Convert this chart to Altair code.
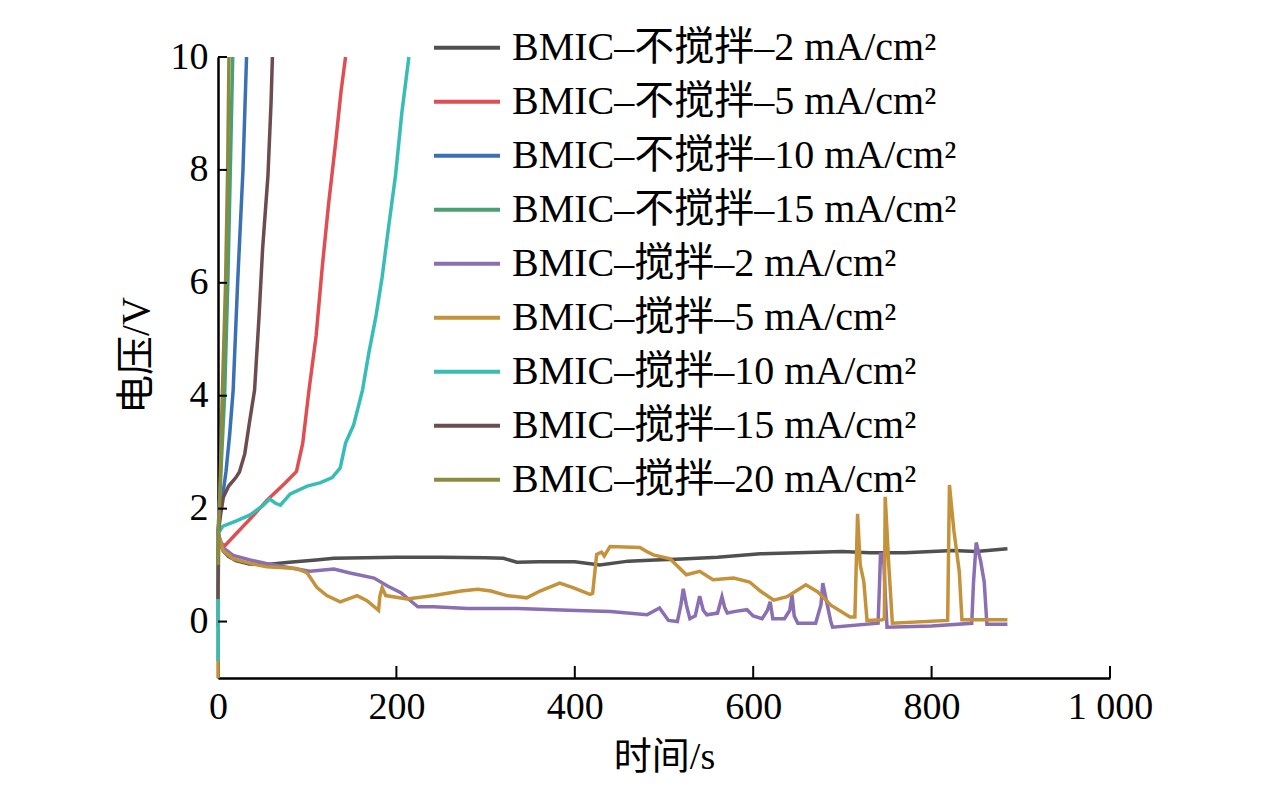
import altair as alt
import pandas as pd

names = [
    "BMIC–不搅拌–2 mA/cm²",
    "BMIC–不搅拌–5 mA/cm²",
    "BMIC–不搅拌–10 mA/cm²",
    "BMIC–不搅拌–15 mA/cm²",
    "BMIC–搅拌–2 mA/cm²",
    "BMIC–搅拌–5 mA/cm²",
    "BMIC–搅拌–10 mA/cm²",
    "BMIC–搅拌–15 mA/cm²",
    "BMIC–搅拌–20 mA/cm²",
]
colors = ["#505050", "#e04e52", "#3a70b4", "#4aa070", "#8a6fb3",
          "#c4923a", "#38bdb6", "#6c4c4e", "#8b8b40"]

# 不搅拌 series
t_ns2 = [0, 2, 6, 12, 20, 35, 55, 80, 110, 130, 200, 250, 300, 320, 335, 360, 400, 428,
         460, 490, 520, 560, 608, 650, 700, 730, 770, 800, 824, 850, 885]
v_ns2 = [1.6, 1.4, 1.25, 1.15, 1.08, 1.02, 1.01, 1.05, 1.09, 1.12, 1.14, 1.14, 1.13, 1.12,
         1.05, 1.06, 1.06, 1.0, 1.07, 1.09, 1.11, 1.14, 1.2, 1.22, 1.24, 1.22, 1.22, 1.24,
         1.26, 1.24, 1.29]

t_ns5 = [0, 3, 8, 20, 35, 55, 75, 88, 95, 102, 110, 117, 124, 132, 138, 143]
v_ns5 = [1.55, 1.38, 1.35, 1.55, 1.8, 2.15, 2.45, 2.66, 3.16, 4.1, 5.06, 6.3, 7.4, 8.5, 9.4, 10]

t_ns10 = [0, 2, 5, 9, 13, 17, 22, 28, 32]
v_ns10 = [1.6, 1.9, 2.2, 2.66, 3.3, 4.1, 6.0, 8.0, 10]

t_ns15 = [0, 2, 4, 7.4, 11, 13.8, 16.5]
v_ns15 = [1.6, 2.2, 2.9, 4.0, 6.0, 8.0, 10]

# 搅拌 series
t_s2 = [0, 0.5, 5.6, 17, 36, 54, 85, 103, 130, 148, 175, 190, 205, 224, 242, 280, 336, 393,
        440, 481, 495, 505, 515, 519, 521.6, 525, 529, 535, 540, 544, 548, 560, 565, 568,
        571, 580, 593, 600, 610, 616, 619, 622, 635, 641, 643.5, 646, 650, 670, 676, 678,
        683, 687, 689, 740, 741.5, 742.7, 746, 748, 750, 800, 845, 847, 850, 855, 859, 861,
        862, 885]
v_s2 = [-0.1, 1.54, 1.31, 1.17, 1.09, 1.03, 0.94, 0.89, 0.93, 0.86, 0.77, 0.63, 0.51, 0.26,
        0.26, 0.23, 0.23, 0.2, 0.18, 0.12, 0.24, 0.02, 0.0, 0.3, 0.58, 0.3, 0.05, 0.1, 0.45,
        0.2, 0.12, 0.15, 0.44, 0.25, 0.15, 0.18, 0.21, 0.1, 0.05, 0.2, 0.35, 0.05, 0.05, 0.2,
        0.47, 0.1, -0.03, -0.03, 0.3, 0.68, 0.3, 0.0, -0.1, -0.03, 0.6, 1.19, 1.19, 0.5, -0.1,
        -0.08, -0.03, 0.7, 1.4, 1.07, 0.7, 0.2, -0.05, -0.05]

t_s5 = [0, 0.5, 5.6, 17, 36, 54.5, 88, 100, 111, 122, 137, 156, 167, 180, 181.5, 184, 188,
        212, 242, 272.6, 291, 306, 324, 336, 346, 361, 383, 398, 417, 420, 424.5, 430, 433,
        439.5, 473, 480.6, 488, 507, 525, 540, 555, 578, 596, 608, 623, 638, 659, 672, 687,
        708.5, 714, 717, 720, 724, 727.6, 745, 747, 748, 752, 756, 818, 820, 825, 831, 834, 885]
v_s5 = [-1.0, 1.54, 1.26, 1.11, 1.03, 0.97, 0.94, 0.86, 0.6, 0.46, 0.35, 0.46, 0.37, 0.2,
        0.45, 0.6, 0.46, 0.4, 0.46, 0.54, 0.57, 0.54, 0.46, 0.44, 0.42, 0.54, 0.68, 0.6, 0.48,
        0.5, 1.19, 1.23, 1.16, 1.33, 1.31, 1.24, 1.18, 1.11, 0.83, 0.89, 0.74, 0.77, 0.7, 0.54,
        0.38, 0.44, 0.65, 0.53, 0.29, 0.08, 0.08, 1.91, 1.0, 0.71, 0.02, 0.03, 0.05, 2.21, 1.0,
        -0.03, 0.02, 2.42, 1.61, 0.89, 0.03, 0.03]

t_s10 = [0, 0.5, 5.6, 20, 36, 50, 58, 64, 70, 81, 100, 115, 128, 137, 143, 152, 162, 169,
         177, 184, 191, 199, 206, 214]
v_s10 = [-0.7, 1.57, 1.69, 1.78, 1.89, 2.05, 2.17, 2.1, 2.06, 2.26, 2.4, 2.46, 2.55, 2.72,
         3.16, 3.48, 4.1, 4.75, 5.4, 6.1, 6.96, 7.9, 9.0, 10]

t_s15 = [0, 0.5, 3, 6, 12, 20, 24, 30, 35, 41, 46, 50, 56, 59.5, 61]
v_s15 = [0.4, 1.6, 1.9, 2.2, 2.4, 2.55, 2.65, 2.97, 3.5, 4.1, 5.4, 6.6, 7.9, 9.2, 10]

t_s20 = [0, 0.5, 2, 4.8, 8.5, 10.8, 12.3]
v_s20 = [1.0, 1.6, 2.2, 4.0, 6.0, 8.0, 10]

x_ticks = [0, 200, 400, 600, 800, 1000]
y_ticks = [0, 2, 4, 6, 8, 10]

series_t = [t_ns2, t_ns5, t_ns10, t_ns15, t_s2, t_s5, t_s10, t_s15, t_s20]
series_v = [v_ns2, v_ns5, v_ns10, v_ns15, v_s2, v_s5, v_s10, v_s15, v_s20]

rows = []
for k, (name, ts, vs) in enumerate(zip(names, series_t, series_v)):
    for i, (t, v) in enumerate(zip(ts, vs)):
        rows.append({"s": name, "k": k, "i": i, "t": t, "v": v})
df = pd.DataFrame(rows)

FONT = "Liberation Serif, Times New Roman, Noto Sans CJK SC"
xscale = alt.Scale(domain=[0, 1000], nice=False, zero=False)
yscale = alt.Scale(domain=[-1, 10], nice=False, zero=False)

xaxis = alt.Axis(values=x_ticks, title="时间/s", grid=False, ticks=False,
                 labelFlush=False, labelOverlap=False,
                 labelExpr="datum.value == 1000 ? '1 000' : datum.label",
                 labelFont=FONT, labelFontSize=38, labelColor="black",
                 labelPadding=10, titleFont=FONT, titleFontSize=38,
                 titleFontWeight="normal", titleColor="black", titlePadding=12,
                 domainColor="black", domainWidth=2.5)
yaxis = alt.Axis(values=y_ticks, title="电压/V", grid=False, ticks=False,
                 labelFont=FONT, labelFontSize=38, labelColor="black",
                 labelPadding=10, titleFont=FONT, titleFontSize=39,
                 titleFontWeight="normal", titleColor="black", titlePadding=14,
                 titleY=298,
                 domainColor="black", domainWidth=2.5)

lines = alt.Chart(df).mark_line(strokeWidth=3.5).encode(
    x=alt.X("t:Q", scale=xscale, axis=xaxis),
    y=alt.Y("v:Q", scale=yscale, axis=yaxis),
    color=alt.Color("s:N", sort=names,
                    scale=alt.Scale(domain=names, range=colors),
                    legend=alt.Legend(orient="none", legendX=214, legendY=-36, title=None,
                                      symbolType="stroke", symbolSize=4356,
                                      symbolStrokeWidth=4, labelFont=FONT,
                                      labelFontSize=40, labelColor="black",
                                      labelLimit=1000, labelOffset=10, rowPadding=0,
                                      clipHeight=53.5)),
    detail="k:N",
    order=alt.Order("i:Q"),
)

yt = alt.Chart(pd.DataFrame({"v": y_ticks})).mark_rule(color="black", strokeWidth=2).encode(
    y=alt.Y("v:Q", scale=yscale, axis=yaxis),
    x=alt.value(0), x2=alt.value(9),
)
xt = alt.Chart(pd.DataFrame({"t": x_ticks[1:]})).mark_rule(color="black", strokeWidth=2).encode(
    x=alt.X("t:Q", scale=xscale, axis=xaxis),
    y=alt.value(621), y2=alt.value(609),
)

chart = alt.layer(lines, yt, xt).properties(
    width=892, height=621,
    autosize=alt.AutoSizeParams(type="none"),
    padding={"left": 210, "top": 49, "right": 150, "bottom": 100},
).configure_view(stroke="transparent")

chart.save("out.html", embed_options={"renderer": "svg", "actions": False})
